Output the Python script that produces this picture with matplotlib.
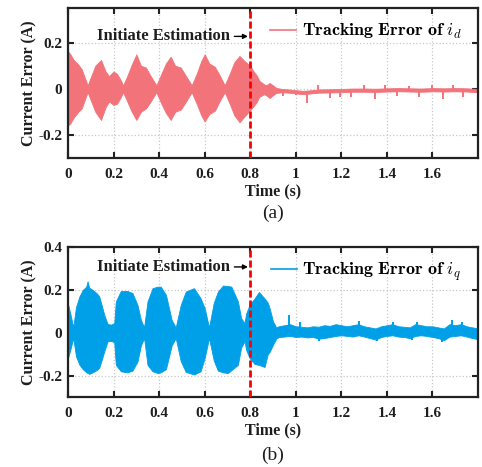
import matplotlib
matplotlib.use('Agg')
import matplotlib.pyplot as plt
from matplotlib.lines import Line2D

plt.rcParams['font.family'] = 'Liberation Serif'
plt.rcParams['mathtext.fontset'] = 'cm'

# ---------------- data ----------------
# (a) envelope of the i_d tracking error
t_d = [0.000, 0.010, 0.025, 0.045, 0.060, 0.075, 0.086, 0.100, 0.120, 0.145,
       0.165, 0.180, 0.200, 0.215, 0.230, 0.242, 0.260, 0.280, 0.300, 0.320,
       0.342, 0.360, 0.388, 0.410, 0.430, 0.451, 0.470, 0.495, 0.515, 0.543,
       0.565, 0.585, 0.600, 0.620, 0.645, 0.665, 0.688, 0.710, 0.730, 0.753,
       0.775, 0.800, 0.815, 0.829, 0.840, 0.860, 0.870, 0.885, 0.900, 0.914,
       0.940, 0.970, 1.000, 1.030, 1.060, 1.100, 1.150, 1.200, 1.250, 1.300,
       1.350, 1.400, 1.450, 1.500, 1.550, 1.600, 1.650, 1.700, 1.750, 1.800]
d_upper = [0.163, 0.150, 0.125, 0.105, 0.085, 0.045, 0.015, 0.050, 0.100, 0.125,
           0.075, 0.055, 0.075, 0.065, 0.040, 0.015, 0.055, 0.105, 0.149, 0.100,
           0.092, 0.060, 0.015, 0.065, 0.110, 0.139, 0.100, 0.092, 0.060, 0.015,
           0.065, 0.120, 0.149, 0.110, 0.095, 0.060, 0.015, 0.065, 0.115, 0.142,
           0.120, 0.099, 0.075, 0.057, 0.035, 0.020, 0.015, 0.025, 0.015, 0.004,
           -0.001, -0.003, -0.006, -0.009, -0.007, -0.003, -0.002, -0.001, 0.001, 0.001,
           0.000, 0.002, 0.003, 0.002, 0.001, 0.003, 0.002, 0.003, 0.002, -0.001]
d_lower = [-0.160, -0.150, -0.125, -0.100, -0.085, -0.045, -0.015, -0.050, -0.100, -0.135,
           -0.080, -0.055, -0.070, -0.065, -0.040, -0.015, -0.055, -0.100, -0.135, -0.100,
           -0.085, -0.060, -0.015, -0.065, -0.105, -0.135, -0.100, -0.090, -0.060, -0.015,
           -0.065, -0.115, -0.142, -0.110, -0.095, -0.055, -0.015, -0.065, -0.115, -0.145,
           -0.120, -0.092, -0.075, -0.057, -0.035, -0.024, -0.028, -0.040, -0.028, -0.018,
           -0.015, -0.017, -0.020, -0.023, -0.021, -0.017, -0.016, -0.015, -0.013, -0.013,
           -0.014, -0.012, -0.011, -0.012, -0.013, -0.011, -0.012, -0.011, -0.012, -0.015]
spike_t_d = [0.944, 1.001, 1.049, 1.096, 1.149, 1.196, 1.244, 1.298, 1.346, 1.393,
             1.444, 1.496, 1.539, 1.597, 1.648, 1.692, 1.736, 1.798]
spike_d = [-0.030, -0.025, -0.060, 0.017, -0.040, -0.035, -0.035, 0.015, -0.045, 0.017,
           -0.030, 0.012, -0.035, 0.017, -0.045, 0.015, -0.035, 0.012]

# (b) envelope of the i_q tracking error
t_q = [0.000, 0.010, 0.023, 0.035, 0.050, 0.065, 0.080, 0.086, 0.093, 0.108,
       0.125, 0.137, 0.150, 0.159, 0.174, 0.190, 0.203, 0.210, 0.232, 0.260,
       0.283, 0.305, 0.320, 0.334, 0.349, 0.371, 0.393, 0.407, 0.430, 0.455,
       0.473, 0.495, 0.517, 0.553, 0.582, 0.600, 0.619, 0.640, 0.658, 0.680,
       0.702, 0.717, 0.746, 0.760, 0.775, 0.782, 0.797, 0.819, 0.838, 0.863,
       0.877, 0.885, 0.900, 0.914,
       0.925, 0.950, 0.975, 1.000, 1.025, 1.050, 1.075, 1.100, 1.125, 1.150,
       1.175, 1.200, 1.225, 1.250, 1.275, 1.300, 1.325, 1.350, 1.375, 1.400,
       1.425, 1.450, 1.475, 1.500, 1.525, 1.550, 1.575, 1.600, 1.625, 1.650,
       1.675, 1.700, 1.725, 1.750, 1.775, 1.800]
q_upper = [0.133, 0.090, 0.025, 0.120, 0.169, 0.200, 0.215, 0.240, 0.210, 0.200,
           0.185, 0.170, 0.120, 0.084, 0.040, 0.038, 0.045, 0.146, 0.195, 0.195,
           0.185, 0.130, 0.060, 0.025, 0.146, 0.208, 0.215, 0.215, 0.177, 0.060,
           0.025, 0.130, 0.192, 0.208, 0.161, 0.115, 0.025, 0.140, 0.192, 0.220,
           0.218, 0.215, 0.146, 0.068, 0.045, 0.090, 0.130, 0.160, 0.190, 0.160,
           0.140, 0.115, 0.053, 0.025,
           0.030, 0.035, 0.040, 0.030, 0.028, 0.025, 0.030, 0.028, 0.035, 0.032,
           0.040, 0.035, 0.030, 0.035, 0.040, 0.030, 0.025, 0.020, 0.030, 0.035,
           0.040, 0.030, 0.028, 0.025, 0.040, 0.035, 0.030, 0.030, 0.025, 0.020,
           0.040, 0.035, 0.040, 0.030, 0.025, 0.020]
q_lower = [-0.118, -0.080, -0.025, -0.110, -0.149, -0.170, -0.185, -0.188, -0.192, -0.185,
           -0.175, -0.164, -0.120, -0.087, -0.040, -0.038, -0.045, -0.150, -0.180, -0.185,
           -0.177, -0.135, -0.060, -0.025, -0.150, -0.180, -0.188, -0.185, -0.170, -0.060,
           -0.025, -0.133, -0.183, -0.195, -0.180, -0.118, -0.025, -0.130, -0.177, -0.185,
           -0.188, -0.175, -0.150, -0.070, -0.040, -0.080, -0.118, -0.146, -0.150, -0.160,
           -0.100, -0.090, -0.056, -0.028,
           -0.020, -0.018, -0.015, -0.020, -0.018, -0.022, -0.020, -0.028, -0.025, -0.020,
           -0.015, -0.012, -0.015, -0.018, -0.012, -0.018, -0.025, -0.032, -0.020, -0.015,
           -0.012, -0.018, -0.020, -0.025, -0.015, -0.012, -0.015, -0.020, -0.025, -0.035,
           -0.018, -0.015, -0.012, -0.018, -0.025, -0.030]
spike_t_q = [0.972, 1.020, 1.100, 1.276, 1.356, 1.429, 1.510, 1.531, 1.641, 1.685, 1.728, 1.798]
spike_q = [0.084, 0.050, -0.040, 0.053, -0.040, 0.050, -0.035, 0.050, -0.045, 0.060, 0.050, -0.035]

x_ticks = [0, 0.2, 0.4, 0.6, 0.8, 1.0, 1.2, 1.4, 1.6]
x_labels = ['0', '0.2', '0.4', '0.6', '0.8', '1', '1.2', '1.4', '1.6']
estimation_time = 0.8

red = '#F2737A'
blue = '#00A0E8'
txt = '#1e1e1e'

fig = plt.figure(figsize=(4.82, 4.67), dpi=100)
ax1 = fig.add_axes([68 / 482, 1 - 158 / 467, 410 / 482, 150 / 467])
ax2 = fig.add_axes([68 / 482, 1 - 397 / 467, 410 / 482, 150 / 467])


def style(ax, yticks, ylabels, ylim):
    ax.set_xlim(0, 1.8)
    ax.set_ylim(*ylim)
    ax.set_xticks(x_ticks)
    ax.set_xticklabels(x_labels)
    ax.set_yticks(yticks)
    ax.set_yticklabels(ylabels)
    ax.grid(True, linestyle=':', color='#c8c8c8', linewidth=0.9)
    ax.set_axisbelow(True)
    for s in ax.spines.values():
        s.set_linewidth(1.6)
        s.set_color('#222222')
    ax.tick_params(direction='in', length=4, width=1.5, top=True, right=True,
                   colors='#222222', labelcolor=txt, labelsize=11)
    ax.tick_params(axis='x', pad=7)
    ax.tick_params(axis='y', pad=4)
    for lab in ax.get_xticklabels() + ax.get_yticklabels():
        lab.set_fontweight('bold')
    ax.set_xlabel('Time (s)', fontsize=11.5, fontweight='bold', color=txt, labelpad=2)
    ax.set_ylabel('Current Error (A)', fontsize=11.5, fontweight='bold', color=txt, labelpad=1)


def legend(ax, color, label):
    ax.legend(handles=[Line2D([], [], color=color, linewidth=1.2)], labels=[label],
              loc='upper right', bbox_to_anchor=(0.99, 0.99), frameon=False, fontsize=13,
              handlelength=1.45, handletextpad=0.3, borderaxespad=0.3)


# (a)
ax1.fill_between(t_d, d_lower, d_upper, color=red, linewidth=0.6, edgecolor=red, zorder=2)
ax1.vlines(spike_t_d, -0.008, spike_d, color=red, linewidth=1.4, zorder=2)
ax1.axvline(estimation_time, color='#ff0000', linewidth=2, dashes=(2.5, 1.1), zorder=3)
ax1.annotate('Initiate Estimation', xy=(0.79, 0.227), xytext=(0.712, 0.227),
             ha='right', va='center', fontsize=12, fontweight='bold', color=txt,
             arrowprops=dict(arrowstyle='-|>', color='black', lw=1, mutation_scale=7,
                             shrinkA=1, shrinkB=0))
style(ax1, [-0.2, 0, 0.2], ['-0.2', '0', '0.2'], (-0.3, 0.35))
legend(ax1, red, r'$\mathbf{Tracking\ Error\ of}\ i_d$')
fig.text(273 / 482, 1 - 213 / 467, '(a)', ha='center', va='center', fontsize=14, color=txt)

# (b)
ax2.fill_between(t_q, q_lower, q_upper, color=blue, linewidth=0.6, edgecolor=blue, zorder=2)
ax2.vlines(spike_t_q, 0.005, spike_q, color=blue, linewidth=1.4, zorder=2)
ax2.axvline(estimation_time, color='#ff0000', linewidth=2, dashes=(2.5, 1.1), zorder=3)
ax2.annotate('Initiate Estimation', xy=(0.79, 0.307), xytext=(0.712, 0.307),
             ha='right', va='center', fontsize=12, fontweight='bold', color=txt,
             arrowprops=dict(arrowstyle='-|>', color='black', lw=1, mutation_scale=7,
                             shrinkA=1, shrinkB=0))
style(ax2, [-0.2, 0, 0.2, 0.4], ['-0.2', '0', '0.2', '0.4'], (-0.3, 0.4))
legend(ax2, blue, r'$\mathbf{Tracking\ Error\ of}\ i_q$')
fig.text(273 / 482, 1 - 455 / 467, '(b)', ha='center', va='center', fontsize=14, color=txt)

fig.savefig('out.png', dpi=100)
